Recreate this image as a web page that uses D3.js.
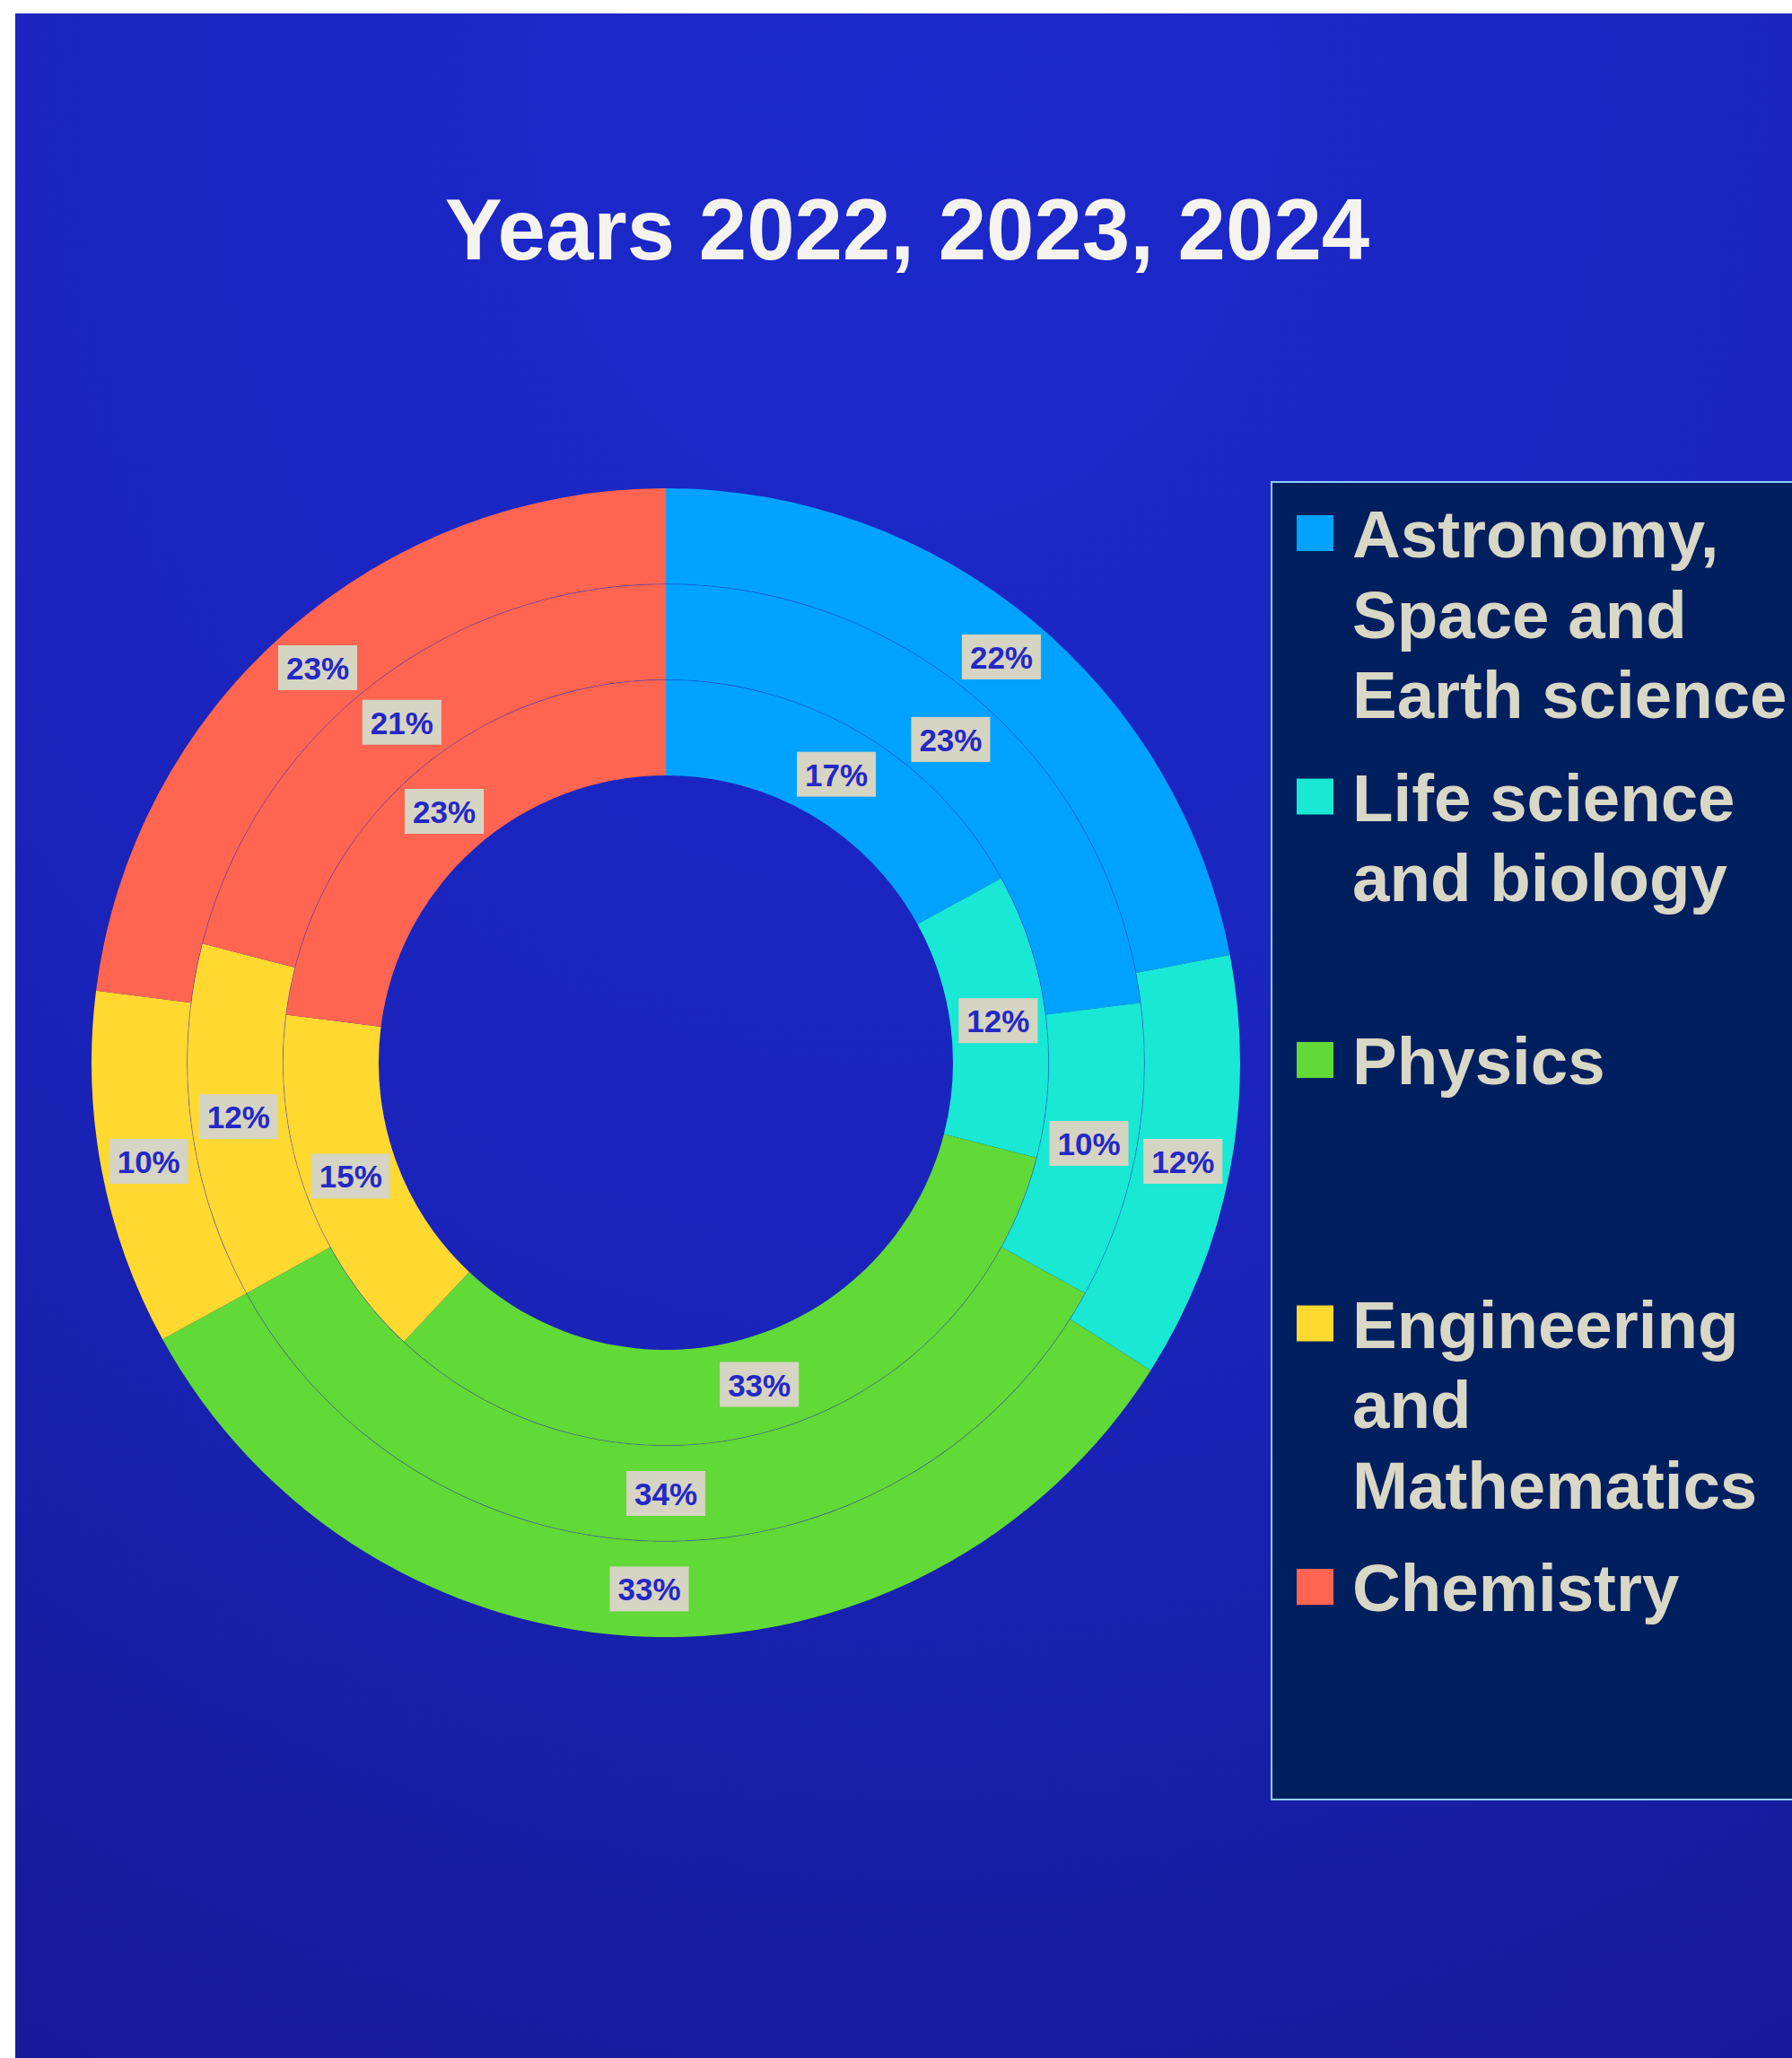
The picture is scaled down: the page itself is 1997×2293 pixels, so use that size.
<!DOCTYPE html>
<html>
<head>
<meta charset="utf-8">
<script src="https://cdn.jsdelivr.net/npm/d3@7"></script>
<style>
  html, body { margin: 0; padding: 0; background: #ffffff; }
  svg { display: block; }
</style>
</head>
<body>
<script>
// Share of subjects per year, one ring per year (inner ring = first year)
const categories = [
  "Astronomy, Space and Earth science",
  "Life science and biology",
  "Physics",
  "Engineering and Mathematics",
  "Chemistry"
];
const legendLines = [
  ["Astronomy,", "Space and", "Earth science"],
  ["Life science", "and biology"],
  ["Physics"],
  ["Engineering", "and", "Mathematics"],
  ["Chemistry"]
];
const years = ["2022", "2023", "2024"];
const values2022 = [17, 12, 33, 15, 23];
const values2023 = [23, 10, 34, 12, 21];
const values2024 = [22, 12, 33, 10, 23];
const colors = ["#00a2ff", "#18e8d4", "#61d936", "#ffd930", "#ff6550"];
const title = "Years 2022, 2023, 2024";

const series = [values2022, values2023, values2024];

const W = 1997, H = 2293;
const font = "'Liberation Sans', Arial, Helvetica, sans-serif";

const svg = d3.select("body").append("svg")
  .attr("width", W).attr("height", H);

// Background panel with a soft radial glow from the top
const defs = svg.append("defs");
const grad = defs.append("radialGradient")
  .attr("id", "bg").attr("cx", "50%").attr("cy", "0%").attr("r", "110%")
  .attr("fx", "50%").attr("fy", "5%");
grad.append("stop").attr("offset", "0%").attr("stop-color", "#1c29cc");
grad.append("stop").attr("offset", "55%").attr("stop-color", "#1a24bb");
grad.append("stop").attr("offset", "100%").attr("stop-color", "#151b98");

svg.append("rect")
  .attr("x", 17).attr("y", 15)
  .attr("width", W - 17).attr("height", H - 15)
  .attr("fill", "url(#bg)");

// Title
svg.append("text")
  .attr("x", 1011).attr("y", 289)
  .attr("text-anchor", "middle")
  .attr("font-family", font).attr("font-weight", "bold")
  .attr("font-size", 96)
  .attr("fill", "#f5f3ee")
  .text(title);

// Doughnut
const cx = 742, cy = 1184;
const outerR = 640, holeR = 320;

const ring = d3.scaleBand().domain(years).range([holeR, outerR]).paddingInner(0);
const pie = d3.pie().sort(null).value(d => d).startAngle(0).endAngle(2 * Math.PI);

const g = svg.append("g").attr("transform", `translate(${cx},${cy})`);

years.forEach((yr, i) => {
  const r0 = ring(yr), r1 = r0 + ring.bandwidth();
  const arc = d3.arc().innerRadius(r0).outerRadius(r1);
  const arcs = pie(series[i]);

  g.append("g").attr("class", "ring-" + yr)
    .selectAll("path").data(arcs).join("path")
    .attr("d", arc)
    .attr("fill", (d, j) => colors[j]);
});

// Thin separators between the rings
years.slice(1).forEach(yr => {
  g.append("circle")
    .attr("r", ring(yr))
    .attr("fill", "none")
    .attr("stroke", "#2a30b8")
    .attr("stroke-opacity", 0.4)
    .attr("stroke-width", 1);
});

// Percentage labels at each slice centroid
years.forEach((yr, i) => {
  const r0 = ring(yr), r1 = r0 + ring.bandwidth();
  const arc = d3.arc().innerRadius(r0).outerRadius(r1);
  const arcs = pie(series[i]);
  const lg = g.append("g").attr("class", "labels-" + yr);
  arcs.forEach(d => {
    const [x, y] = arc.centroid(d);
    const label = lg.append("g").attr("transform", `translate(${x},${y})`);
    const box = label.append("rect");
    const t = label.append("text")
      .attr("text-anchor", "middle")
      .attr("y", 13)
      .attr("font-family", font).attr("font-weight", "bold")
      .attr("font-size", 35)
      .attr("fill", "#2428c4")
      .text(d.data + "%");
    const bb = t.node().getBBox();
    const bw = bb.width + 18, bh = 50;
    box.attr("x", -bw / 2).attr("y", -bh / 2)
      .attr("width", bw).attr("height", bh)
      .attr("fill", "#d6d4c2");
  });
});

// Legend
const legend = svg.append("g");
legend.append("rect")
  .attr("x", 1417).attr("y", 537)
  .attr("width", W - 1417 + 10).attr("height", 1468)
  .attr("fill", "#001f5e")
  .attr("stroke", "#8fcdfa").attr("stroke-width", 2);

const slotTop = 574, slotStep = 293.5, lineH = 89.5;
categories.forEach((c, i) => {
  const y0 = slotTop + i * slotStep;
  const item = legend.append("g");
  item.append("rect")
    .attr("x", 1445).attr("y", y0)
    .attr("width", 41).attr("height", 40)
    .attr("fill", colors[i]);
  const t = item.append("text")
    .attr("font-family", font).attr("font-weight", "bold")
    .attr("font-size", 74.5)
    .attr("fill", "#d9d7c5");
  legendLines[i].forEach((ln, k) => {
    t.append("tspan")
      .attr("x", 1507).attr("y", y0 + 47 + k * lineH)
      .text(ln);
  });
});
</script>
</body>
</html>
